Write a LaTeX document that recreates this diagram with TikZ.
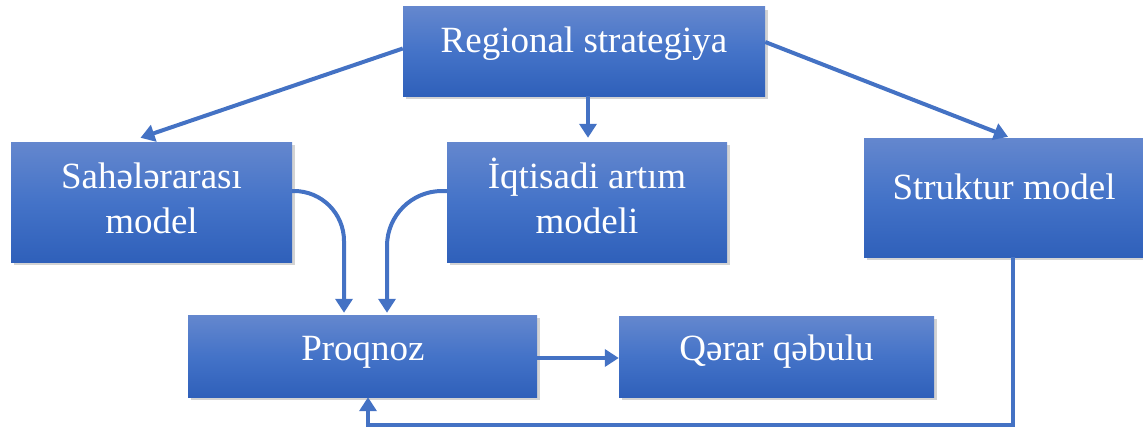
\documentclass[tikz,border=0pt]{standalone}
\usepackage{fontspec}
\setmainfont{Liberation Serif}
\usetikzlibrary{arrows.meta,shadows,calc}
\definecolor{lineblue}{RGB}{68,114,196}
\definecolor{boxtop}{RGB}{100,135,206}
\definecolor{boxmid}{RGB}{68,115,200}
\definecolor{boxbot}{RGB}{47,96,186}
\tikzset{
  box/.style={rectangle, inner sep=0pt, top color=boxtop, bottom color=boxbot, middle color=boxmid,
    drop shadow={opacity=0.35, shadow xshift=2.5pt, shadow yshift=-3pt}},
  txt/.style={text=white, inner sep=0pt, font=\fontsize{37}{45}\selectfont},
  arr/.style={draw=lineblue, line width=4pt, -{Triangle[length=14pt,width=17pt]}},
}
\begin{document}
\begin{tikzpicture}[x=1pt,y=-1pt]
\useasboundingbox (0,0) rectangle (1143,428);
% boxes
\node[box, minimum width=362pt, minimum height=89pt] (reg) at (584,51.5) {};
\node[box, minimum width=281pt, minimum height=120pt] (sah) at (151.5,202) {};
\node[box, minimum width=280pt, minimum height=120pt] (iqt) at (587,202) {};
\node[box, minimum width=279pt, minimum height=119pt] (str) at (1003.5,197.5) {};
\node[box, minimum width=349pt, minimum height=82pt] (pro) at (362.5,356) {};
\node[box, minimum width=315pt, minimum height=81pt] (qer) at (776.5,356.5) {};
% texts
\node[txt, anchor=base] (regt) at (584,53) {Regional strategiya};
\node[txt, anchor=base, align=center] (saht) at (151.5,233) {Sahələrarası\\model};
\node[txt, anchor=base, align=center] (iqtt) at (587,233) {İqtisadi artım\\modeli};
\node[txt, anchor=base] (strt) at (1004,199) {Struktur model};
\node[txt, anchor=base] (prot) at (363,360) {Proqnoz};
\node[txt, anchor=base] (qert) at (776.5,360) {Qərar qəbulu};
% connectors
\draw[arr] ([yshift=3pt]reg.west) -- ([xshift=-11pt,yshift=4pt]sah.north);
\draw[arr] ([xshift=4pt]reg.south) -- ([xshift=1pt,yshift=4pt]iqt.north);
\draw[arr] ([yshift=9.5pt]reg.east) -- ([xshift=4.5pt,yshift=1pt]str.north);
\draw[arr, rounded corners=50pt, shorten >=2pt] ([yshift=11pt]sah.east) -| ([xshift=-18.5pt]pro.north);
\draw[arr, rounded corners=55pt, shorten >=2pt] ([yshift=11pt]iqt.west) -| ([xshift=24.5pt]pro.north);
\draw[arr] ([yshift=-2pt]pro.east) -- ([yshift=-2pt]pro.east -| qer.west);
\draw[arr, line width=3.6pt] ([xshift=9.5pt]str.south) -- ++(0,167.5) -| ([xshift=5.5pt]pro.south);
\end{tikzpicture}
\end{document}
